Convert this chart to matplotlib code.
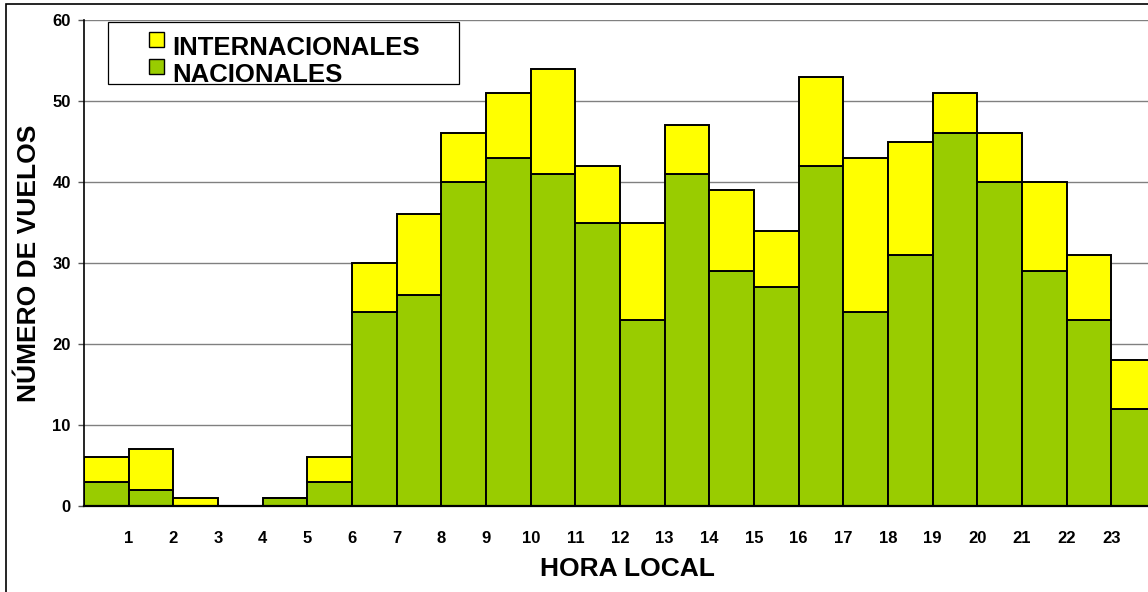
import matplotlib.pyplot as plt
from matplotlib.patches import Rectangle
import numpy as np

plt.rcParams['font.family'] = ['Liberation Sans', 'DejaVu Sans']
plt.rcParams['font.weight'] = 'bold'

# vuelos por hora local
horas = np.arange(24)
nacionales = [3, 2, 0, 0, 1, 3, 24, 26, 40, 43, 41, 35, 23, 41, 29, 27, 42, 24, 31, 46, 40, 29, 23, 12]
internacionales = [3, 5, 1, 0, 0, 3, 6, 10, 6, 8, 13, 7, 12, 6, 10, 7, 11, 19, 14, 5, 6, 11, 8, 6]
etiquetas_x = [str(h) for h in range(1, 24)]

verde = '#99CC00'
amarillo = '#FFFF00'

W, H = 1148, 592
fig = plt.figure(figsize=(W / 100, H / 100), dpi=100)

# outer frame (left and top edges visible)
fig.patches.append(Rectangle((6 / W, -0.2), 1.2, 1.2 - 4 / H, transform=fig.transFigure,
                             fill=False, edgecolor='black', linewidth=1.2, clip_on=False))

ax = fig.add_axes([84 / W, 1 - 506 / H, 24 * 44.67 / W, 486 / H])

ax.bar(horas, nacionales, width=1.0, align='edge', color=verde,
       edgecolor='black', linewidth=1.4, zorder=2)
ax.bar(horas, internacionales, width=1.0, align='edge', bottom=nacionales,
       color=amarillo, edgecolor='black', linewidth=1.4, zorder=2)

ax.set_xlim(0, 24)
ax.set_ylim(0, 60)
ax.set_yticks(range(0, 61, 10))
ax.set_xticks(range(1, 24))
ax.set_xticklabels(etiquetas_x)
ax.yaxis.grid(True, color='#808080', linewidth=1.0, zorder=0)
ax.set_axisbelow(True)

ax.tick_params(axis='x', length=0, pad=18, labelsize=12)
ax.tick_params(axis='y', length=4.5, width=1, color='#555555', pad=5, labelsize=12)

for s in ('top', 'right'):
    ax.spines[s].set_visible(False)
ax.spines['left'].set_linewidth(1.2)
ax.spines['bottom'].set_linewidth(1.6)

ax.set_xlabel('HORA LOCAL', fontsize=19, fontweight='bold')
ax.set_ylabel('NÚMERO DE VUELOS', fontsize=19, fontweight='bold')
ax.xaxis.set_label_coords((627 - 84) / (24 * 44.67), (506 - 557) / 486)
ax.yaxis.set_label_coords((41 - 84) / (24 * 44.67), 0.5)

# legend box
def fx(px):
    return px / W

def fy(py):
    return 1 - py / H

fig.patches.append(Rectangle((fx(108), fy(84)), fx(459) - fx(108), fy(22) - fy(84),
                             transform=fig.transFigure, facecolor='white',
                             edgecolor='black', linewidth=0.9, zorder=5))
for color, label, top, base in [(amarillo, 'INTERNACIONALES', 32, 55),
                                 (verde, 'NACIONALES', 59, 82)]:
    fig.patches.append(Rectangle((fx(149), fy(top + 15)), fx(164) - fx(149), fy(top) - fy(top + 15),
                                 transform=fig.transFigure, facecolor=color,
                                 edgecolor='black', linewidth=1.0, zorder=6))
    fig.text(fx(172), fy(base), label, fontsize=18.5, fontweight='bold',
             va='baseline', ha='left', zorder=7)

fig.savefig('out.png', dpi=100)
